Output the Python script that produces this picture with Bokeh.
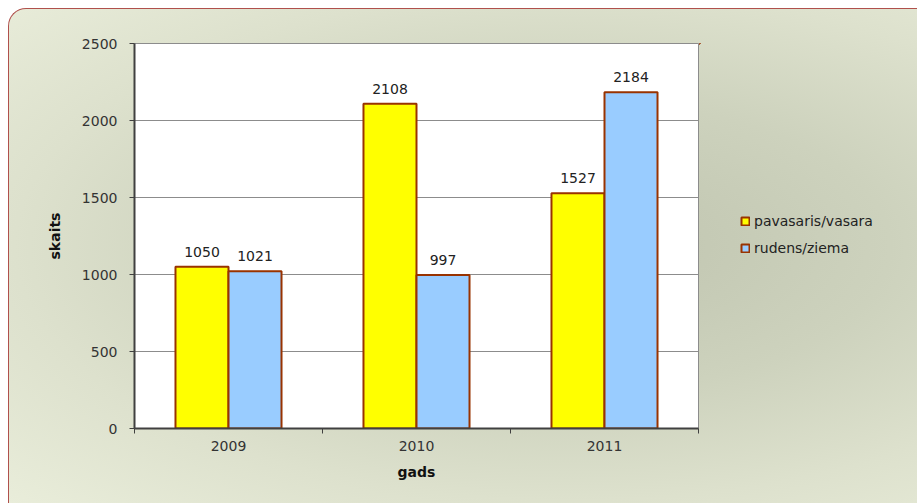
import numpy as np
from bokeh.plotting import figure
from bokeh.layouts import row
from bokeh.models import ColumnDataSource, FixedTicker, Range1d, Legend, LegendItem, LabelSet
from bokeh.core.properties import value
from bokeh.embed import file_html
from bokeh.resources import INLINE

years = ["2009", "2010", "2011"]
series_names = ["pavasaris/vasara", "rudens/ziema"]
spring_summer = [1050, 2108, 1527]
autumn_winter = [1021, 997, 2184]
y_ticks = [0, 500, 1000, 1500, 2000, 2500]

FONT = "DejaVu Sans"
YELLOW, BLUE, EDGE = "#ffff00", "#99ccff", "#993300"
idx = np.arange(len(years))
bw = 0.282

src1 = ColumnDataSource(dict(x=idx + 0.5 - bw / 2, y=spring_summer, lab=[str(v) for v in spring_summer]))
src2 = ColumnDataSource(dict(x=idx + 0.5 + bw / 2, y=autumn_winter, lab=[str(v) for v in autumn_winter]))

# ---- main chart ----
p = figure(width=690, height=494, output_backend="svg", toolbar_location=None,
           x_range=Range1d(0, len(years)), y_range=Range1d(0, 2500),
           min_border_left=125, min_border_top=34, min_border_right=1, min_border_bottom=75)
p.border_fill_color = None
p.background_fill_color = "white"
p.outline_line_color = "#8c8c8c"
p.outline_line_width = 1

p.vbar(x="x", top="y", width=bw, source=src1, fill_color=YELLOW, line_color=EDGE, line_width=2)
p.vbar(x="x", top="y", width=bw, source=src2, fill_color=BLUE, line_color=EDGE, line_width=2)

for s in (src1, src2):
    p.add_layout(LabelSet(x="x", y="y", text="lab", source=s, y_offset=10,
                          text_align="center", text_baseline="alphabetic",
                          text_font=value(FONT), text_font_size="14px", text_color="#222222"))

p.xgrid.visible = False
p.ygrid.grid_line_color = "#8c8c8c"
p.ygrid.grid_line_width = 1
p.ygrid.ticker = FixedTicker(ticks=y_ticks)

ya = p.yaxis[0]
ya.ticker = FixedTicker(ticks=y_ticks)
ya.axis_line_color = "#404040"
ya.axis_line_width = 2
ya.major_tick_line_color = "#404040"
ya.major_tick_out = 5
ya.major_tick_in = 0
ya.minor_tick_line_color = None
ya.major_label_standoff = 12
ya.major_label_text_font = FONT
ya.major_label_text_font_size = "14px"
ya.major_label_text_color = "#333333"
ya.axis_label = "skaits"
ya.axis_label_text_font = FONT
ya.axis_label_text_font_size = "14px"
ya.axis_label_text_font_style = "bold"
ya.axis_label_text_color = "#111111"
ya.axis_label_standoff = 16

xa = p.xaxis[0]
xa.ticker = FixedTicker(ticks=list(idx + 0.5), minor_ticks=list(range(len(years) + 1)))
xa.major_label_overrides = {float(i + 0.5): y for i, y in enumerate(years)}
xa.axis_line_color = "#404040"
xa.axis_line_width = 2
xa.major_tick_line_color = None
xa.minor_tick_line_color = "#404040"
xa.minor_tick_out = 5
xa.minor_tick_in = 0
xa.major_label_standoff = 6
xa.major_label_text_font = FONT
xa.major_label_text_font_size = "14px"
xa.major_label_text_color = "#333333"
xa.axis_label = "gads"
xa.axis_label_text_font = FONT
xa.axis_label_text_font_size = "14px"
xa.axis_label_text_font_style = "bold"
xa.axis_label_text_color = "#111111"
xa.axis_label_standoff = 10

# ---- legend panel (same series, ranges chosen so the bars fall out of view; only its legend shows) ----
lg = figure(width=218, height=494, output_backend="svg", toolbar_location=None,
            min_border=0, x_range=Range1d(len(years) + 10, len(years) + 11),
            y_range=Range1d(-20, -10))
lg.axis.visible = False
lg.grid.visible = False
lg.outline_line_color = None
lg.border_fill_color = None
lg.background_fill_color = None
l1 = lg.vbar(x="x", top="y", width=bw, source=src1, fill_color=YELLOW, line_color=EDGE, line_width=2)
l2 = lg.vbar(x="x", top="y", width=bw, source=src2, fill_color=BLUE, line_color=EDGE, line_width=2)
legend = Legend(items=[LegendItem(label=series_names[0], renderers=[l1]),
                       LegendItem(label=series_names[1], renderers=[l2])],
                location=(41, 170), glyph_width=10, glyph_height=10, label_height=20,
                label_standoff=4, spacing=7, padding=0, margin=0,
                border_line_color=None, background_fill_color=None,
                label_text_font=FONT, label_text_font_size="14px", label_text_color="#222222")
lg.add_layout(legend, "center")

layout = row(p, lg, spacing=0)
layout.styles = {
    "margin-left": "8px",
    "margin-top": "8px",
    "border-top": "1px solid #b0504c",
    "border-left": "1px solid #b0504c",
    "border-top-left-radius": "18px",
    "background": "radial-gradient(ellipse at 62% 48%, #bfc4af 0%, #cdd2bd 40%, #dde1cd 70%, #e9edda 100%)",
}

open("out.html", "w").write(file_html(layout, INLINE))
